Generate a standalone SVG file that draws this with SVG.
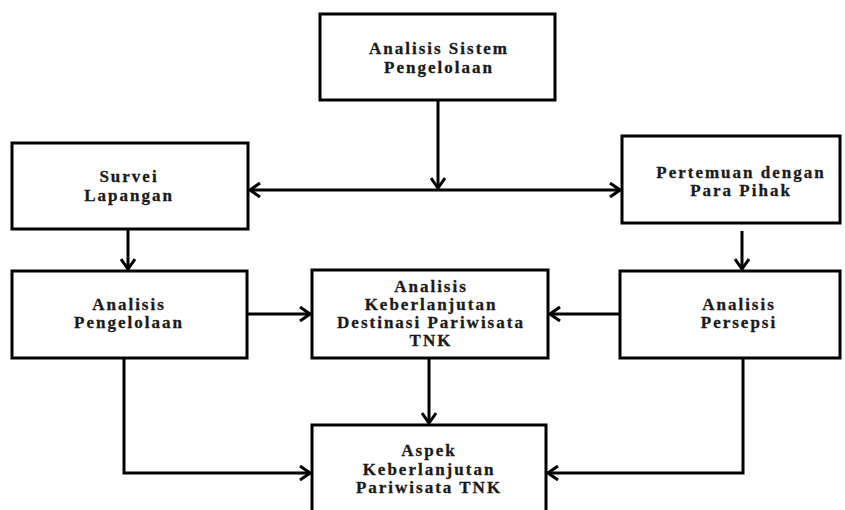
<svg xmlns="http://www.w3.org/2000/svg" width="845" height="510" viewBox="0 0 845 510">
<defs>
<marker id="arr" viewBox="0 0 12 16" refX="11" refY="8" markerWidth="12" markerHeight="16" markerUnits="userSpaceOnUse" orient="auto-start-reverse">
<path d="M1,1 L11,8 L1,15" fill="none" stroke="#000" stroke-width="3"/>
</marker>
<style>
.box{fill:#fff;stroke:#000;stroke-width:3}
.t{font-family:"Liberation Serif","Times New Roman",serif;font-weight:bold;font-size:17px;letter-spacing:2px;text-anchor:middle;fill:#1a1a1a;stroke:#1a1a1a;stroke-width:0.3}
.c{fill:none;stroke:#000;stroke-width:3}
</style>
</defs>
<rect width="845" height="510" fill="#fff"/>
<g id="connectors">
<path class="c" d="M438,100 V188" marker-end="url(#arr)"/>
<path class="c" d="M250,190 H620" marker-start="url(#arr)" marker-end="url(#arr)"/>
<path class="c" d="M128,229 V269" marker-end="url(#arr)"/>
<path class="c" d="M742,231 V269" marker-end="url(#arr)"/>
<path class="c" d="M247,314 H310" marker-end="url(#arr)"/>
<path class="c" d="M620,314 H550" marker-end="url(#arr)"/>
<path class="c" d="M429,358 V423" marker-end="url(#arr)"/>
<path class="c" d="M124,358 V473 H310" marker-end="url(#arr)"/>
<path class="c" d="M743,358 V473 H548" marker-end="url(#arr)"/>
</g>
<g id="n1"><rect class="box" x="320" y="14" width="235" height="86"/>
<text class="t" x="439" y="54">Analisis Sistem</text><text class="t" x="439" y="73">Pengelolaan</text></g>
<g id="n2"><rect class="box" x="12" y="143" width="236" height="86"/>
<text class="t" x="129" y="182">Survei</text><text class="t" x="129" y="201">Lapangan</text></g>
<g id="n3"><rect class="box" x="622" y="136" width="218" height="87"/>
<text class="t" x="741" y="178">Pertemuan dengan</text><text class="t" x="741" y="196">Para Pihak</text></g>
<g id="n4"><rect class="box" x="12" y="271" width="235" height="87"/>
<text class="t" x="129" y="310">Analisis</text><text class="t" x="129" y="328">Pengelolaan</text></g>
<g id="n5"><rect class="box" x="312" y="270" width="236" height="88"/>
<text class="t" x="431" y="292">Analisis</text><text class="t" x="431" y="310">Keberlanjutan</text><text class="t" x="431" y="328">Destinasi Pariwisata</text><text class="t" x="431" y="346">TNK</text></g>
<g id="n6"><rect class="box" x="620" y="271" width="220" height="87"/>
<text class="t" x="739" y="310">Analisis</text><text class="t" x="739" y="328">Persepsi</text></g>
<g id="n7"><rect class="box" x="312" y="425" width="234" height="90"/>
<text class="t" x="429" y="456">Aspek</text><text class="t" x="429" y="475">Keberlanjutan</text><text class="t" x="429" y="493">Pariwisata TNK</text></g>
</svg>
